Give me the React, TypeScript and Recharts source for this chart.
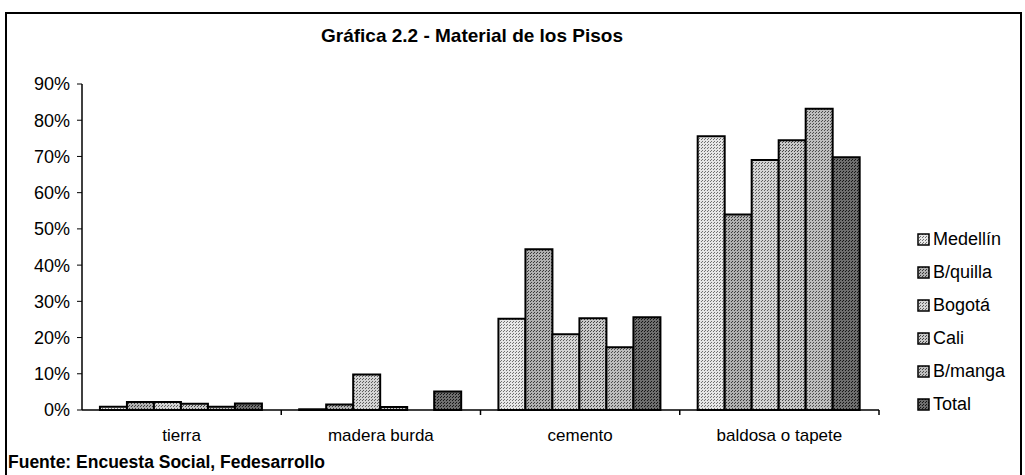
import React from 'react';
import { BarChart, Bar, XAxis, YAxis, Legend } from 'recharts';

// Gráfica 2.2 - Material de los Pisos (share of households by floor material)
const categories = ['tierra', 'madera burda', 'cemento', 'baldosa o tapete'];
const seriesNames = ['Medellín', 'B/quilla', 'Bogotá', 'Cali', 'B/manga', 'Total'];

const medellin = [0.009, 0.002, 0.252, 0.756];
const bquilla = [0.022, 0.015, 0.444, 0.54];
const bogota = [0.022, 0.098, 0.209, 0.69];
const cali = [0.017, 0.008, 0.253, 0.745];
const bmanga = [0.009, 0, 0.173, 0.832];
const total = [0.018, 0.051, 0.256, 0.698];

const yTicks = [0, 0.1, 0.2, 0.3, 0.4, 0.5, 0.6, 0.7, 0.8, 0.9];

const seriesValues = [medellin, bquilla, bogota, cali, bmanga, total];
const data = categories.map((name, i) => {
    const row: Record<string, string | number> = { name };
    seriesNames.forEach((s, k) => {
        row[s] = seriesValues[k][i];
    });
    return row;
});

// grey stipple look of the scanned original
const patterns = [
    { id: 'p0', bg: '#e6e6e6', dot: '#707070' },
    { id: 'p1', bg: '#b0b0b0', dot: '#3a3a3a' },
    { id: 'p2', bg: '#d4d4d4', dot: '#5e5e5e' },
    { id: 'p3', bg: '#c8c8c8', dot: '#454545' },
    { id: 'p4', bg: '#bebebe', dot: '#4c4c4c' },
    { id: 'p5', bg: '#6e6e6e', dot: '#161616' },
];

const W = 1025;
const H = 475;
const margin = { top: 84, right: 146, bottom: 35, left: 20 };
const yAxisWidth = 62;
const halfBand = (W - margin.left - margin.right - yAxisWidth) / categories.length / 2;
const font = "'Liberation Sans', Arial, sans-serif";

const CategoryTick = (props: any) => {
    const { x, y, payload } = props;
    return (
        <g>
            <text x={x} y={y + 31} textAnchor="middle" fontSize={17} fontFamily={font} fill="#000">
                {payload.value}
            </text>
            <line x1={x + halfBand} y1={y} x2={x + halfBand} y2={y + 5} stroke="#000" strokeWidth={1.5} />
        </g>
    );
};

const LegendBox = () => (
    <div style={{ fontFamily: font, fontSize: 18, color: '#000' }}>
        {seriesNames.map((s, k) => (
            <div key={s} style={{ display: 'flex', alignItems: 'center', height: 33 }}>
                <svg width={13} height={13} style={{ marginRight: 3 }}>
                    <rect x={1} y={1} width={11} height={11} fill={`url(#${patterns[k].id})`} stroke="#000" strokeWidth={1.5} />
                </svg>
                <span>{s}</span>
            </div>
        ))}
    </div>
);

export default function App() {
    return (
        <div style={{ position: 'absolute', left: 0, top: 0, width: W, height: H, background: '#fff', overflow: 'hidden' }}>
            <div
                style={{
                    position: 'absolute',
                    left: 5,
                    top: 12,
                    width: 1013,
                    height: 480,
                    borderLeft: '2px solid #000',
                    borderTop: '2px solid #000',
                    borderRight: '2px solid #000',
                }}
            />
            <div
                style={{
                    position: 'absolute',
                    left: 272,
                    top: 25,
                    width: 400,
                    textAlign: 'center',
                    fontFamily: font,
                    fontWeight: 'bold',
                    fontSize: 19,
                    color: '#000',
                }}
            >
                Gráfica 2.2 - Material de los Pisos
            </div>
            <div style={{ position: 'absolute', left: 0, top: 0 }}>
                <BarChart width={W} height={H} data={data} margin={margin} barCategoryGap="9%" barGap={0}>
                    <defs>
                        {patterns.map((p) => (
                            <pattern key={p.id} id={p.id} width={3} height={3} patternUnits="userSpaceOnUse">
                                <rect width={3} height={3} fill={p.bg} />
                                <rect x={0} y={0} width={1} height={1} fill={p.dot} />
                                <rect x={2} y={1} width={1} height={1} fill={p.dot} />
                            </pattern>
                        ))}
                    </defs>
                    <XAxis
                        dataKey="name"
                        tick={<CategoryTick />}
                        tickLine={false}
                        tickSize={0}
                        tickMargin={0}
                        axisLine={{ stroke: '#000', strokeWidth: 1.5 }}
                        height={30}
                        interval={0}
                    />
                    <YAxis
                        domain={[0, 0.9]}
                        ticks={yTicks}
                        tickFormatter={(v: number) => `${Math.round(v * 100)}%`}
                        width={yAxisWidth}
                        tickSize={5}
                        tickMargin={7}
                        tickLine={{ stroke: '#000' }}
                        axisLine={{ stroke: '#000', strokeWidth: 1.5 }}
                        tick={{ fontSize: 18, fontFamily: font, fill: '#000' }}
                        interval={0}
                    />
                    <Legend
                        layout="vertical"
                        verticalAlign="middle"
                        align="center"
                        content={<LegendBox />}
                        wrapperStyle={{ left: 917, top: 223, width: 105 }}
                    />
                    {seriesNames.map((s, k) => (
                        <Bar
                            key={s}
                            dataKey={s}
                            fill={`url(#${patterns[k].id})`}
                            stroke="#000"
                            strokeWidth={2}
                            isAnimationActive={false}
                        />
                    ))}
                </BarChart>
            </div>
            <div
                style={{
                    position: 'absolute',
                    left: 8,
                    top: 452,
                    fontFamily: font,
                    fontWeight: 'bold',
                    fontSize: 17.5,
                    color: '#000',
                }}
            >
                Fuente: Encuesta Social, Fedesarrollo
            </div>
        </div>
    );
}
